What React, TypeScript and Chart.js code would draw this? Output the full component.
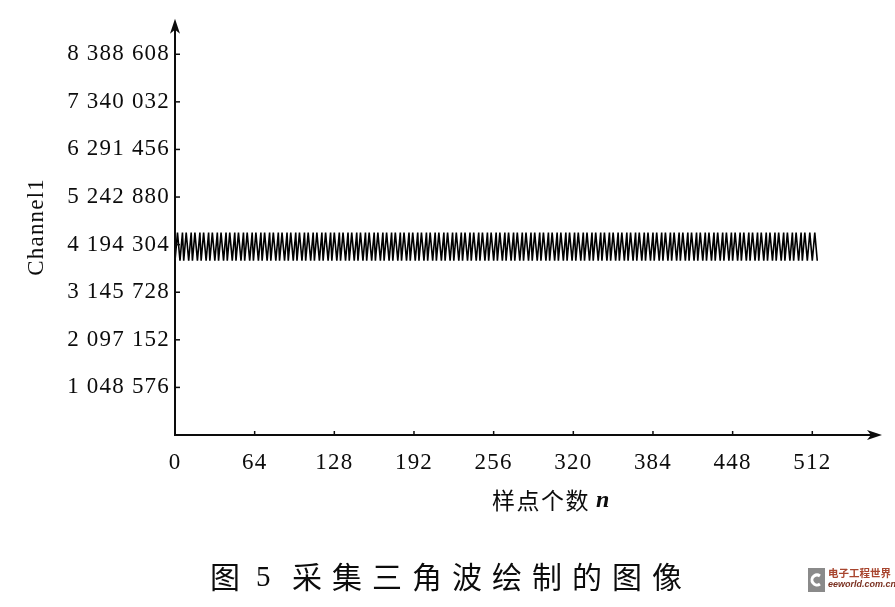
import React, { useEffect, useRef } from "react";
import { Chart, registerables } from "chart.js";

Chart.register(...registerables);

// Tick values
const xTickValues = [0, 64, 128, 192, 256, 320, 384, 448, 512];
const yTickValues = [1048576, 2097152, 3145728, 4194304, 5242880, 6291456, 7340032, 8388608];
const yTickLabels = ["1 048 576", "2 097 152", "3 145 728", "4 194 304", "5 242 880", "6 291 456", "7 340 032", "8 388 608"];

// Channel1 samples (triangle wave, n = 0 .. 516)
const channel1 = [
  3840000, 4150000, 4460000, 4150000, 3840000, 4150000, 4460000,
  3840000, 4150000, 4460000, 4150000, 3840000, 4150000, 4460000,
  3840000, 4150000, 4460000, 4150000, 3840000, 4150000, 4460000,
  3840000, 4150000, 4460000, 4150000, 3840000, 4150000, 4460000,
  3840000, 4150000, 4460000, 4150000, 3840000, 4150000, 4460000,
  3840000, 4150000, 4460000, 4150000, 3840000, 4150000, 4460000,
  3840000, 4150000, 4460000, 4150000, 3840000, 4150000, 4460000,
  3840000, 4150000, 4460000, 4150000, 3840000, 4150000, 4460000,
  3840000, 4150000, 4460000, 4150000, 3840000, 4150000, 4460000,
  3840000, 4150000, 4460000, 4150000, 3840000, 4150000, 4460000,
  3840000, 4150000, 4460000, 4150000, 3840000, 4150000, 4460000,
  3840000, 4150000, 4460000, 4150000, 3840000, 4150000, 4460000,
  3840000, 4150000, 4460000, 4150000, 3840000, 4150000, 4460000,
  3840000, 4150000, 4460000, 4150000, 3840000, 4150000, 4460000,
  3840000, 4150000, 4460000, 4150000, 3840000, 4150000, 4460000,
  3840000, 4150000, 4460000, 4150000, 3840000, 4150000, 4460000,
  3840000, 4150000, 4460000, 4150000, 3840000, 4150000, 4460000,
  3840000, 4150000, 4460000, 4150000, 3840000, 4150000, 4460000,
  3840000, 4150000, 4460000, 4150000, 3840000, 4150000, 4460000,
  3840000, 4150000, 4460000, 4150000, 3840000, 4150000, 4460000,
  3840000, 4150000, 4460000, 4150000, 3840000, 4150000, 4460000,
  3840000, 4150000, 4460000, 4150000, 3840000, 4150000, 4460000,
  3840000, 4150000, 4460000, 4150000, 3840000, 4150000, 4460000,
  3840000, 4150000, 4460000, 4150000, 3840000, 4150000, 4460000,
  3840000, 4150000, 4460000, 4150000, 3840000, 4150000, 4460000,
  3840000, 4150000, 4460000, 4150000, 3840000, 4150000, 4460000,
  3840000, 4150000, 4460000, 4150000, 3840000, 4150000, 4460000,
  3840000, 4150000, 4460000, 4150000, 3840000, 4150000, 4460000,
  3840000, 4150000, 4460000, 4150000, 3840000, 4150000, 4460000,
  3840000, 4150000, 4460000, 4150000, 3840000, 4150000, 4460000,
  3840000, 4150000, 4460000, 4150000, 3840000, 4150000, 4460000,
  3840000, 4150000, 4460000, 4150000, 3840000, 4150000, 4460000,
  3840000, 4150000, 4460000, 4150000, 3840000, 4150000, 4460000,
  3840000, 4150000, 4460000, 4150000, 3840000, 4150000, 4460000,
  3840000, 4150000, 4460000, 4150000, 3840000, 4150000, 4460000,
  3840000, 4150000, 4460000, 4150000, 3840000, 4150000, 4460000,
  3840000, 4150000, 4460000, 4150000, 3840000, 4150000, 4460000,
  3840000, 4150000, 4460000, 4150000, 3840000, 4150000, 4460000,
  3840000, 4150000, 4460000, 4150000, 3840000, 4150000, 4460000,
  3840000, 4150000, 4460000, 4150000, 3840000, 4150000, 4460000,
  3840000, 4150000, 4460000, 4150000, 3840000, 4150000, 4460000,
  3840000, 4150000, 4460000, 4150000, 3840000, 4150000, 4460000,
  3840000, 4150000, 4460000, 4150000, 3840000, 4150000, 4460000,
  3840000, 4150000, 4460000, 4150000, 3840000, 4150000, 4460000,
  3840000, 4150000, 4460000, 4150000, 3840000, 4150000, 4460000,
  3840000, 4150000, 4460000, 4150000, 3840000, 4150000, 4460000,
  3840000, 4150000, 4460000, 4150000, 3840000, 4150000, 4460000,
  3840000, 4150000, 4460000, 4150000, 3840000, 4150000, 4460000,
  3840000, 4150000, 4460000, 4150000, 3840000, 4150000, 4460000,
  3840000, 4150000, 4460000, 4150000, 3840000, 4150000, 4460000,
  3840000, 4150000, 4460000, 4150000, 3840000, 4150000, 4460000,
  3840000, 4150000, 4460000, 4150000, 3840000, 4150000, 4460000,
  3840000, 4150000, 4460000, 4150000, 3840000, 4150000, 4460000,
  3840000, 4150000, 4460000, 4150000, 3840000, 4150000, 4460000,
  3840000, 4150000, 4460000, 4150000, 3840000, 4150000, 4460000,
  3840000, 4150000, 4460000, 4150000, 3840000, 4150000, 4460000,
  3840000, 4150000, 4460000, 4150000, 3840000, 4150000, 4460000,
  3840000, 4150000, 4460000, 4150000, 3840000, 4150000, 4460000,
  3840000, 4150000, 4460000, 4150000, 3840000, 4150000, 4460000,
  3840000, 4150000, 4460000, 4150000, 3840000, 4150000, 4460000,
  3840000, 4150000, 4460000, 4150000, 3840000, 4150000, 4460000,
  3840000, 4150000, 4460000, 4150000, 3840000, 4150000, 4460000,
  3840000, 4150000, 4460000, 4150000, 3840000, 4150000, 4460000,
  3840000, 4150000, 4460000, 4150000, 3840000, 4150000, 4460000,
  3840000, 4150000, 4460000, 4150000, 3840000, 4150000, 4460000,
  3840000, 4150000, 4460000, 4150000, 3840000, 4150000, 4460000,
  3840000, 4150000, 4460000, 4150000, 3840000, 4150000, 4460000,
  3840000, 4150000, 4460000, 4150000, 3840000, 4150000, 4460000,
  3840000, 4150000, 4460000, 4150000, 3840000, 4150000, 4460000,
  3840000, 4150000, 4460000, 4150000, 3840000, 4150000, 4460000,
  3840000, 4150000, 4460000, 4150000, 3840000, 4150000, 4460000,
  3840000, 4150000, 4460000, 4150000, 3840000, 4150000, 4460000,
  3840000, 4150000, 4460000, 4150000, 3840000, 4150000, 4460000,
  4150000, 3840000, 4150000, 4460000, 4150000, 3840000,
];

const X_MAX = 568;
const Y_MAX = 9170000;

const xTitle = "样点个数";
const xTitleVar = "n";
const yTitle = "Channel1";
const captionFig = "图";
const captionNum = "5";
const captionText = "采集三角波绘制的图像";
const markCn = "电子工程世界";
const markEn = "eeworld.com.cn";

const INK = "#0c0c0c";

const decor = {
  id: "decor",
  beforeDraw(chart: any) {
    const ctx = chart.ctx;
    ctx.save();
    ctx.fillStyle = "#ffffff";
    ctx.fillRect(0, 0, chart.width, chart.height);
    ctx.restore();
    ctx.letterSpacing = "1.2px";
  },
  afterDraw(chart: any) {
    const ctx = chart.ctx;
    const x = chart.scales.x;
    const y = chart.scales.y;
    const x0 = x.getPixelForValue(0);
    const y0 = y.getPixelForValue(0);
    const xEnd = x.getPixelForValue(X_MAX);
    const yEnd = y.getPixelForValue(Y_MAX);
    ctx.save();
    ctx.letterSpacing = "0px";
    ctx.strokeStyle = INK;
    ctx.fillStyle = INK;
    ctx.lineWidth = 2;
    // y axis
    ctx.beginPath();
    ctx.moveTo(x0, y0 + 1);
    ctx.lineTo(x0, yEnd + 8);
    ctx.stroke();
    ctx.beginPath();
    ctx.moveTo(x0, yEnd);
    ctx.lineTo(x0 - 5, yEnd + 15);
    ctx.lineTo(x0, yEnd + 11);
    ctx.lineTo(x0 + 5, yEnd + 15);
    ctx.closePath();
    ctx.fill();
    // x axis
    ctx.beginPath();
    ctx.moveTo(x0 - 1, y0);
    ctx.lineTo(xEnd - 8, y0);
    ctx.stroke();
    ctx.beginPath();
    ctx.moveTo(xEnd, y0);
    ctx.lineTo(xEnd - 15, y0 - 5);
    ctx.lineTo(xEnd - 11, y0);
    ctx.lineTo(xEnd - 15, y0 + 5);
    ctx.closePath();
    ctx.fill();
    // ticks
    ctx.lineWidth = 1.5;
    yTickValues.forEach((v) => {
      const py = y.getPixelForValue(v);
      ctx.beginPath();
      ctx.moveTo(x0, py);
      ctx.lineTo(x0 + 5, py);
      ctx.stroke();
    });
    xTickValues.slice(1).forEach((v) => {
      const px = x.getPixelForValue(v);
      ctx.beginPath();
      ctx.moveTo(px, y0);
      ctx.lineTo(px, y0 - 4);
      ctx.stroke();
    });

    // x axis title
    ctx.textBaseline = "middle";
    ctx.textAlign = "left";
    ctx.font = '23px "Noto Sans CJK SC"';
    ctx.letterSpacing = "1.5px";
    ctx.fillText(xTitle, 492, 500);
    const w = ctx.measureText(xTitle).width;
    ctx.letterSpacing = "0px";
    ctx.font = 'italic bold 24px "Liberation Serif"';
    ctx.fillText(xTitleVar, 492 + w + 6, 501);

    // caption
    ctx.font = '30px "Noto Sans CJK SC"';
    ctx.fillText(captionFig, 210, 577);
    ctx.font = '29px "Liberation Serif"';
    ctx.fillText(captionNum, 256, 578);
    ctx.font = '30px "Noto Sans CJK SC"';
    ctx.letterSpacing = "10px";
    ctx.fillText(captionText, 292, 577);
    ctx.letterSpacing = "0px";

    // watermark
    ctx.fillStyle = "#8a8a8a";
    ctx.fillRect(808, 568, 17, 24);
    ctx.strokeStyle = "#ffffff";
    ctx.lineWidth = 3;
    ctx.beginPath();
    ctx.arc(817, 580, 5, Math.PI * 0.3, Math.PI * 1.7);
    ctx.stroke();
    ctx.fillStyle = "#a8452e";
    ctx.font = 'bold 10.5px "Noto Sans CJK SC"';
    ctx.fillText(markCn, 828, 573);
    ctx.font = 'italic bold 9px "Liberation Sans"';
    ctx.fillStyle = "#7a3020";
    ctx.fillText(markEn, 828, 585);
    ctx.restore();
  },
};

export default function App() {
  const ref = useRef<HTMLCanvasElement | null>(null);
  useEffect(() => {
    if (!ref.current) return;
    const chart = new Chart(ref.current, {
      type: "line",
      data: {
        datasets: [
          {
            label: yTitle,
            data: channel1.map((v, i) => ({ x: i, y: v })),
            borderColor: "#000000",
            borderWidth: 1.6,
            pointRadius: 0,
            tension: 0,
            fill: false,
          },
        ],
      },
      options: {
        animation: false,
        responsive: false,
        devicePixelRatio: 1,
        layout: { padding: { top: 13, right: 13, left: 0, bottom: 0 } },
        plugins: { legend: { display: false }, tooltip: { enabled: false }, title: { display: false } },
        scales: {
          x: {
            type: "linear",
            min: 0,
            max: X_MAX,
            grid: { display: false, drawTicks: false },
            border: { display: false },
            afterBuildTicks: (s: any) => {
              s.ticks = xTickValues.map((v) => ({ value: v }));
            },
            afterFit: (s: any) => {
              s.height = 172;
            },
            ticks: {
              autoSkip: false,
              maxRotation: 0,
              padding: 14,
              color: INK,
              font: { family: '"Liberation Serif"', size: 23 },
              callback: (v: any) => String(v),
            },
          },
          y: {
            type: "linear",
            min: 0,
            max: Y_MAX,
            grid: { display: false, drawTicks: false },
            border: { display: false },
            afterBuildTicks: (s: any) => {
              s.ticks = yTickValues.map((v) => ({ value: v }));
            },
            afterFit: (s: any) => {
              s.width = 175;
            },
            title: {
              display: true,
              text: yTitle,
              color: INK,
              font: { family: '"Liberation Serif"', size: 23 },
              padding: { top: 23, bottom: 0 },
            },
            ticks: {
              autoSkip: false,
              padding: 5,
              color: INK,
              font: { family: '"Liberation Serif"', size: 23 },
              callback: (v: any) => {
                const i = yTickValues.indexOf(Number(v));
                return i >= 0 ? yTickLabels[i] : "";
              },
            },
          },
        },
      },
      plugins: [decor],
    });
    return () => chart.destroy();
  }, []);
  return (
    <div style={{ position: "fixed", left: 0, top: 0, width: 895, height: 607, background: "#fff" }}>
      <canvas ref={ref} width={895} height={607} style={{ width: 895, height: 607, display: "block" }} />
    </div>
  );
}
